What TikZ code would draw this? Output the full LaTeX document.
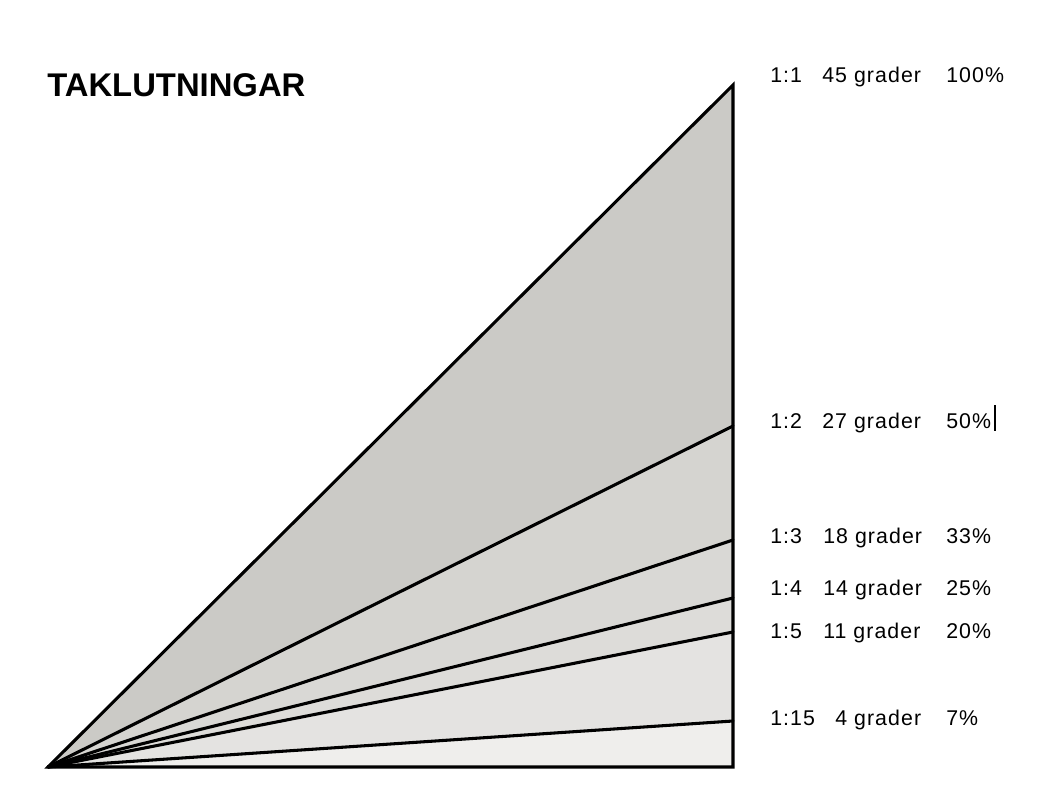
\documentclass[tikz,border=0pt]{standalone}
\usepackage{fontspec}
\setmainfont{Liberation Sans}

\definecolor{grayA}{HTML}{CBCAC6}
\definecolor{grayB}{HTML}{D5D4D0}
\definecolor{grayC}{HTML}{D9D8D5}
\definecolor{grayD}{HTML}{DDDCD9}
\definecolor{grayE}{HTML}{E4E3E1}
\definecolor{grayF}{HTML}{EFEEEC}

\begin{document}
\begin{tikzpicture}[x=0.75pt,y=-0.75pt,
  slope/.style={line width=2.3pt,line cap=round},
  lbl/.style={anchor=base west,inner sep=0pt,font=\fontsize{16}{18}\selectfont\addfontfeature{LetterSpace=5}}]
\useasboundingbox (0,0) rectangle (1048,806);
%\draw[gray] (0,0) grid[step=50] (1048,806);

% corners of the roof triangle
\coordinate (O) at (48,767);
\coordinate (R) at (733,767);
\coordinate (P1) at (733,85);
\coordinate (P2) at (733,426);
\coordinate (P3) at (733,540);
\coordinate (P4) at (733,598);
\coordinate (P5) at (733,632);
\coordinate (P15) at (733,721);

% shaded wedges
\fill[grayA] (O) -- (P1) -- (P2) -- cycle;
\fill[grayB] (O) -- (P2) -- (P3) -- cycle;
\fill[grayC] (O) -- (P3) -- (P4) -- cycle;
\fill[grayD] (O) -- (P4) -- (P5) -- cycle;
\fill[grayE] (O) -- (P5) -- (P15) -- cycle;
\fill[grayF] (O) -- (P15) -- (R) -- cycle;

% slopes
\foreach \p in {P2,P3,P4,P5,P15} {
    \draw[slope] (O) -- (\p);
}
\draw[slope,line join=miter] (O) -- (P1) -- (R) -- cycle;

\node[anchor=base west,inner sep=0pt,font=\fontsize{24.6}{28}\selectfont\bfseries] (title) at (47,97) {TAKLUTNINGAR};

% labels: ratio, degrees, percent
\foreach \y/\r/\g/\gx/\pc [count=\i] in {83/1:1/45/822/100,428/1:2/27/822/50,543/1:3/18/823/33,595/1:4/14/823/25,638/1:5/11/823/20,725/1:15/4/835/7} {
    \node[lbl] (ratio\i) at (770,\y) {\r};
    \node[lbl] (deg\i) at (\gx,\y) {\g\ grader};
    \node[lbl] (pct\i) at (946,\y) {\pc\%};
}
\draw[line width=0.8pt] (995,405) -- (995,431);
\end{tikzpicture}
\end{document}
